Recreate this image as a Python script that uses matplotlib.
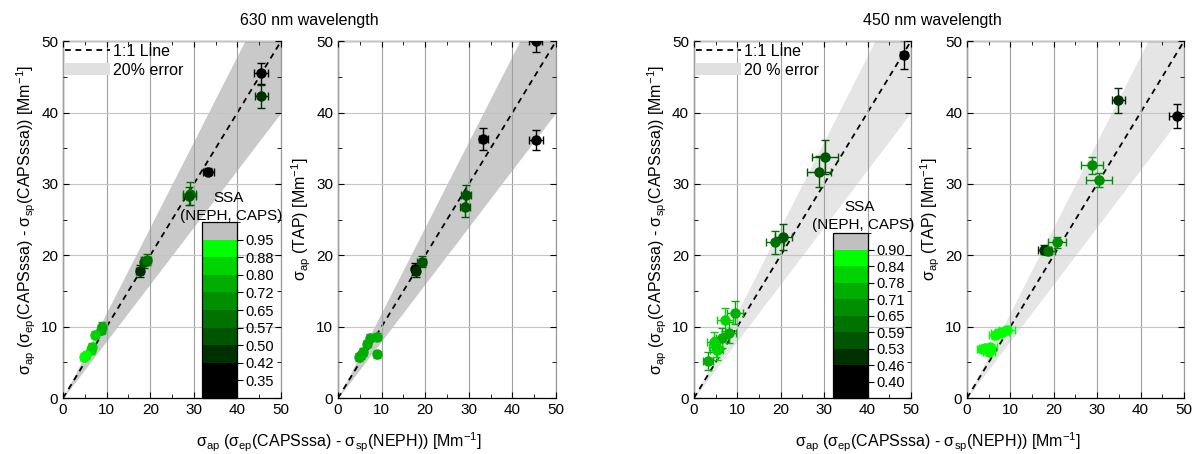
import numpy as np
import matplotlib
matplotlib.use('Agg')
import matplotlib.pyplot as plt
from matplotlib.colors import ListedColormap, BoundaryNorm
from matplotlib.lines import Line2D
from matplotlib.patches import Patch
import matplotlib.cm as cm

plt.rcParams['font.family'] = ['Liberation Sans', 'DejaVu Sans']
plt.rcParams['mathtext.fontset'] = 'custom'
plt.rcParams['mathtext.rm'] = 'Liberation Sans'
plt.rcParams['mathtext.it'] = 'Liberation Sans:italic'

# ---------------- data ----------------
# 630 nm, CAPS-derived absorption vs NEPH-based
x630_caps = [45.4, 45.5, 33.3, 29.1, 29.0, 17.6, 18.6, 19.2, 9.0, 8.6, 7.3, 6.7, 6.3, 5.2, 4.7]
y630_caps = [45.5, 42.3, 31.7, 28.6, 28.3, 17.8, 19.0, 19.4, 9.9, 9.6, 8.9, 7.2, 6.7, 6.0, 5.75]
ssa630_caps = [0.38, 0.46, 0.38, 0.60, 0.56, 0.45, 0.55, 0.60, 0.72, 0.76, 0.86, 0.80, 0.82, 0.90, 0.90]
xerr630_caps = [1.5, 1.5, 1.3, 1.5, 1.5, 0.8, 0.8, 1.0, 0.7, 0.6, 0.5, 0.5, 0.5, 0.5, 0.5]
yerr630_caps = [1.5, 1.6, 0.5, 1.6, 1.2, 0.8, 0.8, 0.8, 0.8, 0.6, 0.5, 0.5, 0.5, 0.5, 0.5]

# 630 nm, TAP
x630_tap = [45.3, 33.3, 45.4, 29.4, 29.1, 17.7, 17.8, 19.2, 9.0, 7.3, 6.7, 5.7, 5.2, 9.0, 4.7]
y630_tap = [50.0, 36.3, 36.1, 28.5, 26.8, 18.1, 17.8, 19.1, 8.6, 8.45, 7.6, 6.45, 6.0, 6.1, 5.75]
ssa630_tap = [0.38, 0.38, 0.38, 0.55, 0.55, 0.38, 0.46, 0.55, 0.74, 0.78, 0.78, 0.76, 0.78, 0.76, 0.78]
xerr630_tap = [1.5, 1.0, 1.7, 1.2, 1.2, 0.8, 0.8, 1.0, 0.7, 0.6, 0.5, 0.5, 0.5, 0.5, 0.5]
yerr630_tap = [1.5, 1.5, 1.4, 1.4, 1.4, 0.8, 0.8, 0.8, 0.5, 0.5, 0.5, 0.5, 0.5, 0.5, 0.5]

# 450 nm, CAPS-derived
x450_caps = [48.4, 30.3, 28.8, 18.7, 20.6, 9.4, 7.1, 8.1, 6.5, 4.6, 5.0, 5.2, 3.2]
y450_caps = [48.1, 33.8, 31.7, 21.8, 22.6, 11.95, 11.0, 9.15, 8.35, 7.9, 7.2, 6.7, 5.2]
ssa450_caps = [0.42, 0.56, 0.56, 0.60, 0.57, 0.72, 0.80, 0.76, 0.74, 0.80, 0.80, 0.80, 0.76]
xerr450_caps = [0.8, 3.0, 2.8, 2.0, 2.0, 1.8, 1.8, 1.6, 1.5, 1.5, 1.5, 1.5, 1.2]
yerr450_caps = [2.0, 2.4, 2.2, 1.6, 1.8, 1.6, 1.6, 1.5, 1.4, 1.4, 1.4, 1.4, 1.3]

# 450 nm, TAP
x450_tap = [34.9, 48.5, 28.8, 30.4, 17.8, 18.7, 20.7, 9.2, 8.1, 7.1, 6.5, 5.4, 4.2, 3.5, 5.0]
y450_tap = [41.7, 39.5, 32.6, 30.5, 20.8, 20.6, 21.8, 9.6, 9.3, 9.05, 8.8, 7.2, 6.96, 6.8, 6.5]
ssa450_tap = [0.50, 0.42, 0.70, 0.70, 0.50, 0.62, 0.68, 0.87, 0.87, 0.87, 0.87, 0.87, 0.87, 0.87, 0.87]
xerr450_tap = [1.5, 2.0, 2.5, 3.0, 1.5, 1.5, 2.0, 1.8, 1.6, 1.5, 1.5, 1.4, 1.4, 1.3, 1.4]
yerr450_tap = [1.7, 1.7, 1.2, 1.0, 0.6, 0.6, 0.8, 0.5, 0.5, 0.5, 0.5, 0.4, 0.4, 0.4, 0.4]

# SSA colour scale levels
bounds630 = [0.27, 0.35, 0.42, 0.50, 0.57, 0.65, 0.72, 0.80, 0.88, 0.95, 1.02]
ticks630 = ['0.35', '0.42', '0.50', '0.57', '0.65', '0.72', '0.80', '0.88', '0.95']
bounds450 = [0.34, 0.40, 0.46, 0.53, 0.59, 0.65, 0.71, 0.78, 0.84, 0.90, 0.96]
ticks450 = ['0.40', '0.46', '0.53', '0.59', '0.65', '0.71', '0.78', '0.84', '0.90']
ssa_colors = ['#000000', '#000000', '#003000', '#005600', '#007200', '#008f00',
              '#00ad00', '#00d400', '#00ff00', '#c0c0c0']
cmap = ListedColormap(ssa_colors)
norm630 = BoundaryNorm(bounds630, cmap.N)
norm450 = BoundaryNorm(bounds450, cmap.N)

fig = plt.figure(figsize=(11.94, 4.54), dpi=100)

xlab = r'$\mathregular{\sigma_{ap}}$ ($\mathregular{\sigma_{ep}}$(CAPSssa) - $\mathregular{\sigma_{sp}}$(NEPH)) [Mm$\mathregular{^{-1}}$]'
ylab_caps = r'$\mathregular{\sigma_{ap}}$ ($\mathregular{\sigma_{ep}}$(CAPSssa) - $\mathregular{\sigma_{sp}}$(CAPSssa)) [Mm$\mathregular{^{-1}}$]'
ylab_tap = r'$\mathregular{\sigma_{ap}}$ (TAP) [Mm$\mathregular{^{-1}}$]'


def panel(rect, xs, ys, xe, ye, ssa, norm, band_color, ylabel):
    ax = fig.add_axes(rect)
    line = np.array([0, 50])
    ax.fill_between(line, 0.8 * line, 1.2 * line, color=band_color, lw=0, zorder=1)
    ax.plot(line, line, color='black', ls=(0, (3.2, 2.6)), lw=1.3, zorder=2)
    for x, y, dx, dy, s in zip(xs, ys, xe, ye, ssa):
        c = cmap(norm(s))
        ax.errorbar(x, y, xerr=dx, yerr=dy, fmt='o', color=c, ms=6.5,
                    elinewidth=1, capsize=3, capthick=1, zorder=3)
    ax.set_xlim(0, 50)
    ax.set_ylim(0, 50)
    ax.set_xticks(range(0, 51, 10))
    ax.set_yticks(range(0, 51, 10))
    ax.set_xticks(range(5, 50, 10), minor=True)
    ax.set_yticks(range(5, 50, 10), minor=True)
    ax.grid(True, which='major', axis='x', color='#a0a0a0', lw=0.8, zorder=1.5)
    ax.grid(True, which='major', axis='y', color='#c4c4c4', lw=0.8, zorder=1.5)
    ax.set_axisbelow(False)
    ax.tick_params(which='both', direction='in', top=True, right=True, labelsize=11)
    ax.tick_params(which='major', length=4)
    ax.tick_params(which='minor', length=3)
    for sp in ax.spines.values():
        sp.set_linewidth(0.9)
    ax.spines['right'].set_color('#999999')
    ax.set_ylabel(ylabel, fontsize=11.5, labelpad=2)
    return ax


def legend(ax, band_label):
    handles = [Line2D([], [], color='black', ls=(0, (3.2, 2.6)), lw=1.3),
               Patch(facecolor='#e0e0e0', edgecolor='none')]
    ax.legend(handles, ['1:1 Line', band_label], loc='upper left', frameon=False,
              fontsize=11.5, handlelength=2.8, handletextpad=0.2,
              borderaxespad=0.0, borderpad=0.15, labelspacing=0.25)


def colorbar(rect, norm, bounds, labels, x_text, y_text):
    cax = fig.add_axes(rect)
    sm = cm.ScalarMappable(norm=norm, cmap=cmap)
    cb = fig.colorbar(sm, cax=cax, ticks=bounds[1:-1], spacing='uniform')
    cb.ax.set_yticklabels(labels)
    cb.ax.tick_params(labelsize=10.5, length=4, width=0.8, pad=2)
    cb.outline.set_linewidth(0.9)
    fig.text(x_text, y_text + 0.04, 'SSA', ha='center', fontsize=11)
    fig.text(x_text + 0.003, y_text, '(NEPH, CAPS)', ha='center', fontsize=11)


# 630 nm
ax1 = panel([0.0528, 0.1233, 0.1826, 0.786], x630_caps, y630_caps, xerr630_caps,
            yerr630_caps, ssa630_caps, norm630, '#c9c9c9', ylab_caps)
legend(ax1, '20% error')
ax2 = panel([0.2831, 0.1233, 0.1826, 0.786], x630_tap, y630_tap, xerr630_tap,
            yerr630_tap, ssa630_tap, norm630, '#c9c9c9', ylab_tap)
colorbar([0.1692, 0.1233, 0.0293, 0.3877], norm630, bounds630, ticks630, 0.191, 0.515)
fig.text(0.259, 0.946, '630 nm wavelength', ha='center', fontsize=11.5)
fig.text(0.284, 0.015, xlab, ha='center', fontsize=11.5)

# 450 nm
ax3 = panel([0.5812, 0.1233, 0.1817, 0.786], x450_caps, y450_caps, xerr450_caps,
            yerr450_caps, ssa450_caps, norm450, '#e5e5e5', ylab_caps)
legend(ax3, '20 % error')
ax4 = panel([0.8099, 0.1233, 0.1817, 0.786], x450_tap, y450_tap, xerr450_tap,
            yerr450_tap, ssa450_tap, norm450, '#e5e5e5', ylab_tap)
colorbar([0.6977, 0.1233, 0.0293, 0.3634], norm450, bounds450, ticks450, 0.720, 0.495)
fig.text(0.781, 0.946, '450 nm wavelength', ha='center', fontsize=11.5)
fig.text(0.786, 0.015, xlab, ha='center', fontsize=11.5)

fig.savefig('out.png', dpi=100)
